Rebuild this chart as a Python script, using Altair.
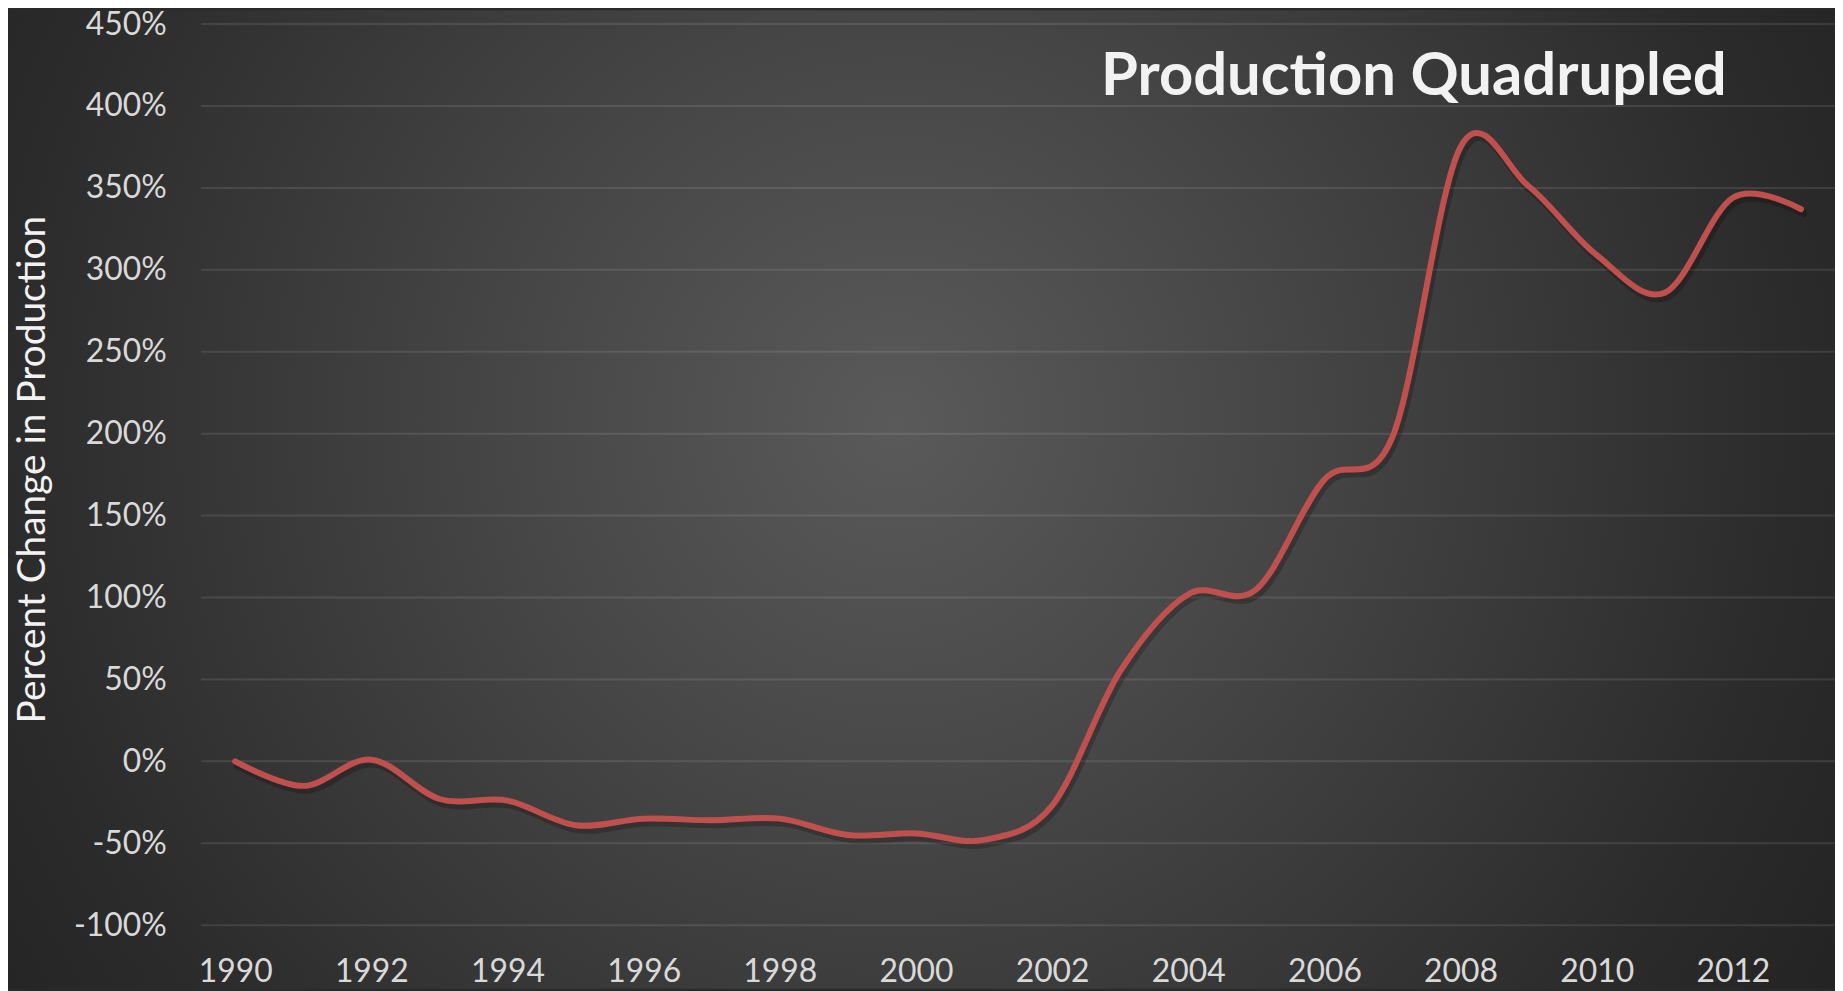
import altair as alt
import pandas as pd

# ---- data ----
years = list(range(1990, 2014))
pct_change = [0, -15, 1, -23, -24, -39, -35, -36, -35, -45, -44, -48,
              -27, 55, 102, 105, 172, 198, 375, 351, 309, 286, 344, 337]
y_ticks = [-100, -50, 0, 50, 100, 150, 200, 250, 300, 350, 400, 450]
x_ticks = list(range(1990, 2013, 2))
chart_title = "Production Quadrupled"
y_title = "Percent Change in Production"

# ---- layout ----
W, H = 1641, 905
PAD_L, PAD_T, PAD_R, PAD_B = 194, 14, 0, 64

df = pd.DataFrame({"year": years, "pct": pct_change})
grid_df = pd.DataFrame({"tick": y_ticks})
one = pd.DataFrame({"a": [0]})

x_scale = alt.Scale(domain=[1989.5, 2013.5], nice=False, zero=False)
y_scale = alt.Scale(domain=[-100, 450], nice=False, zero=False)

x_axis = alt.Axis(
    values=x_ticks, format="d", grid=False, domain=False, ticks=False,
    labelFont="Lato", labelFontSize=32, labelColor="#d9d9d9",
    labelBaseline="alphabetic", labelPadding=57, labelFlush=False,
    labelOverlap=False, title=None, zindex=1,
)
y_axis = alt.Axis(
    values=y_ticks, labelExpr="datum.value + '%'", grid=False, domain=False,
    ticks=False,
    labelFont="Lato", labelFontSize=32, labelColor="#d9d9d9", labelPadding=35,
    labelOverlap=False, labelFlush=False,
    title=y_title, titleFont="Lato", titleFontSize=39, titleFontWeight="normal",
    titleColor="#f2f2f2", titleX=-157, titleY=447, titleAngle=270,
    titleAlign="center", titleBaseline="alphabetic", zindex=1,
)

bg = alt.Chart(one).mark_rect(
    fill={
        "gradient": "radial",
        "x1": 0.486, "y1": 0.458, "r1": 0,
        "x2": 0.486, "y2": 0.458, "r2": 0.62,
        "stops": [
            {"offset": 0.0, "color": "#5a5a5a"},
            {"offset": 0.33, "color": "#474747"},
            {"offset": 0.79, "color": "#2b2b2b"},
            {"offset": 1.0, "color": "#222222"},
        ],
    }
).encode(
    x=alt.value(-PAD_L), x2=alt.value(W + PAD_R),
    y=alt.value(-PAD_T), y2=alt.value(H + PAD_B),
)

grid = alt.Chart(grid_df).mark_rule(color="#ffffff", opacity=0.1, strokeWidth=2).encode(
    y=alt.Y("tick:Q", scale=y_scale, axis=y_axis)
)

shadow = alt.Chart(df).transform_calculate(
    sx="datum.year + 0.035", sy="datum.pct - 2.4"
).mark_line(
    interpolate="cardinal", strokeWidth=8, color="#000000", opacity=0.22,
    strokeCap="round",
).encode(
    x=alt.X("sx:Q", scale=x_scale, axis=x_axis),
    y=alt.Y("sy:Q", scale=y_scale, axis=y_axis),
)

line = alt.Chart(df).mark_line(
    interpolate="cardinal", strokeWidth=6, color="#C0504D", strokeCap="round"
).encode(
    x=alt.X("year:Q", scale=x_scale, axis=x_axis),
    y=alt.Y("pct:Q", scale=y_scale, axis=y_axis),
)

title = alt.Chart(one).mark_text(
    text=chart_title, font="Lato", fontSize=60, fontWeight="bold",
    color="#f2f2f2", align="center", baseline="alphabetic",
).encode(x=alt.value(1218), y=alt.value(71))

chart = alt.layer(bg, grid, shadow, line, title).properties(
    width=W, height=H,
    autosize=alt.AutoSizeParams(type="none"),
    padding={"left": PAD_L, "top": PAD_T, "right": PAD_R, "bottom": PAD_B},
    background="#2a2a2a",
).configure_view(stroke=None)

chart.save("out.html", embed_options={"renderer": "svg", "actions": False})
